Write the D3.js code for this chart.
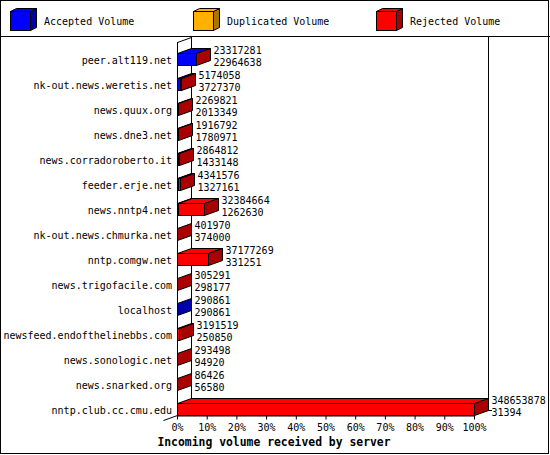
<!DOCTYPE html>
<html>
<head>
<meta charset="utf-8">
<script src="https://cdn.jsdelivr.net/npm/d3@7"></script>
<style>
  body { margin: 0; background: #fff; }
  svg { display: block; }
  text { font-family: "DejaVu Sans Mono", monospace; font-size: 10px; fill: #000; }
</style>
</head>
<body>
<svg id="chart" width="550" height="455"></svg>
<script>
// hosts, top to bottom
var hosts = ["peer.alt119.net", "nk-out.news.weretis.net", "news.quux.org", "news.dne3.net",
    "news.corradoroberto.it", "feeder.erje.net", "news.nntp4.net", "nk-out.news.chmurka.net",
    "nntp.comgw.net", "news.trigofacile.com", "localhost", "newsfeed.endofthelinebbs.com",
    "news.sonologic.net", "news.snarked.org", "nntp.club.cc.cmu.edu"];
// incoming volume (first number next to each bar)
var incoming = [23317281, 5174058, 2269821, 1916792, 2864812, 4341576, 32384664, 401970,
    37177269, 305291, 290861, 3191519, 293498, 86426, 348653878];
// accepted volume (second number)
var accepted = [22964638, 3727370, 2013349, 1780971, 1433148, 1327161, 1262630, 374000,
    331251, 298177, 290861, 250850, 94920, 56580, 31394];
var duplicated = [0, 0, 0, 0, 0, 0, 0, 0, 0, 0, 0, 0, 0, 0, 0];
var percentTicks = [0, 10, 20, 30, 40, 50, 60, 70, 80, 90, 100];

var keys = ["accepted", "duplicated", "rejected"];
var labels = {accepted: "Accepted Volume", duplicated: "Duplicated Volume", rejected: "Rejected Volume"};
var front = {accepted: "#0000ff", duplicated: "#ffb000", rejected: "#ff0000"};
var side = {accepted: "#0000aa", duplicated: "#aa7500", rejected: "#aa0000"};

var table = hosts.map(function (h, i) {
    return {host: h, incoming: incoming[i], accepted: accepted[i], duplicated: duplicated[i],
        rejected: Math.max(0, incoming[i] - accepted[i] - duplicated[i])};
});

var svg = d3.select("#chart");
var dx = 14, dy = -5, barH = 12;
var maxVol = d3.max(incoming);

var x = d3.scaleLinear().domain([0, maxVol]).range([177, 474]);
var xp = d3.scaleLinear().domain([0, 100]).range([177, 474]);
var y = d3.scaleBand().domain(hosts).range([46.5, 421.5]).padding(0);
var floorY = 415;

// border
svg.append("rect").attr("x", 0.5).attr("y", 0.5).attr("width", 548).attr("height", 453)
    .attr("fill", "none").attr("stroke", "#000");

// legend
var legX = [10, 193, 376];
var leg = svg.append("g").selectAll("g").data(keys).enter().append("g")
    .attr("transform", function (d, i) { return "translate(" + legX[i] + ",0)"; });
leg.append("polygon")
    .attr("points", function () { return [[20.5, 11.5], [20.5 + 6, 11.5 - 3], [20.5 + 6, 30.5 - 3], [20.5, 30.5]].join(" "); })
    .attr("fill", function (d) { return side[d]; }).attr("stroke", "#000");
leg.append("polygon")
    .attr("points", function () { return [[0.5, 11.5], [6.5, 8.5], [26.5, 8.5], [20.5, 11.5]].join(" "); })
    .attr("fill", function (d) { return front[d]; }).attr("stroke", "#000");
leg.append("rect").attr("x", 0.5).attr("y", 11.5).attr("width", 20).attr("height", 19)
    .attr("fill", function (d) { return front[d]; }).attr("stroke", "#000");
leg.append("text").attr("x", 34).attr("y", 21).attr("dy", "0.35em")
    .text(function (d) { return labels[d]; });

svg.append("line").attr("x1", 0).attr("x2", 550).attr("y1", 36.5).attr("y2", 36.5).attr("stroke", "#000");

// back wall and floor
var axes = svg.append("g").attr("stroke", "#000").attr("fill", "none");
axes.append("line").attr("x1", 177.5 + dx).attr("x2", 177.5 + dx).attr("y1", 37).attr("y2", floorY + dy);
axes.append("line").attr("x1", 474.5 + dx).attr("x2", 474.5 + dx).attr("y1", 37).attr("y2", floorY + dy + 0.5);
axes.append("line").attr("x1", 177.5 + dx).attr("x2", 474.5 + dx).attr("y1", floorY + dy + 0.5).attr("y2", floorY + dy + 0.5);
axes.append("line").attr("x1", 474.5 + dx).attr("x2", 478 + dx).attr("y1", floorY + dy + 0.5).attr("y2", floorY + dy + 0.5);
axes.append("line").attr("x1", 177.5).attr("x2", 177.5).attr("y1", 42).attr("y2", floorY);
axes.append("line").attr("x1", 177.5).attr("x2", 177.5 + dx).attr("y1", 42.5).attr("y2", 37.5);
axes.append("line").attr("x1", 177.5 - dx).attr("y1", floorY + 0.5 - dy).attr("x2", 177.5).attr("y2", floorY + 0.5);

// bars
var stack = d3.stack().keys(keys)(table);
var rows = svg.append("g").selectAll("g").data(table).enter().append("g");

rows.each(function (row, i) {
    var g = d3.select(this);
    var top = Math.round(y(row.host) + y.bandwidth() / 2 - barH / 2) + 0.5;
    var bot = top + barH;
    var segs = stack.map(function (s) {
        return {key: s.key, x0: Math.floor(x(s[i][0])) + 0.5, x1: Math.floor(x(s[i][1])) + 0.5, v: s[i][1] - s[i][0]};
    }).filter(function (s) { return s.v > 0; });

    segs.forEach(function (s) {
        if (s.x1 <= s.x0) return;
        g.append("polygon")
            .attr("points", [[s.x0, top], [s.x0 + dx, top + dy], [s.x1 + dx, top + dy], [s.x1, top]].join(" "))
            .attr("fill", front[s.key]).attr("stroke", "#000");
        g.append("rect").attr("x", s.x0).attr("y", top)
            .attr("width", s.x1 - s.x0).attr("height", barH)
            .attr("fill", front[s.key]).attr("stroke", "#000");
    });
    var last = segs[segs.length - 1];
    g.append("polygon")
        .attr("points", [[last.x1, top], [last.x1 + dx, top + dy], [last.x1 + dx, bot + dy], [last.x1, bot]].join(" "))
        .attr("fill", side[last.key]).attr("stroke", "#000");

    var tx = last.x1 + dx + 3;
    var cy = top + barH / 2;
    g.append("text").attr("x", tx).attr("y", cy - 9).attr("dy", "0.35em").text(row.incoming);
    g.append("text").attr("x", tx).attr("y", cy + 3).attr("dy", "0.35em").text(row.accepted);
});

// host labels
svg.append("g").selectAll("text").data(hosts).enter().append("text")
    .attr("x", 172).attr("y", function (d) { return y(d) + y.bandwidth() / 2 + 1; })
    .attr("dy", "0.35em").attr("text-anchor", "end").text(function (d) { return d; });

// x axis
var xAxis = svg.append("g").attr("transform", "translate(0," + (floorY + 0.5) + ")")
    .call(d3.axisBottom(xp).tickValues(percentTicks).tickSize(4).tickPadding(4).tickSizeOuter(0)
        .tickFormat(function (d) { return d + "%"; }));
xAxis.select(".domain").attr("stroke", "#000");
xAxis.selectAll("line").attr("stroke", "#000");
xAxis.selectAll("text").attr("font-family", "DejaVu Sans Mono").attr("font-size", "10px").attr("fill", "#000");

svg.append("text").attr("x", 274).attr("y", 442).attr("dy", "0.35em").attr("text-anchor", "middle")
    .style("font-weight", "bold").style("font-size", "11.4px")
    .text("Incoming volume received by server");
</script>
</body>
</html>
